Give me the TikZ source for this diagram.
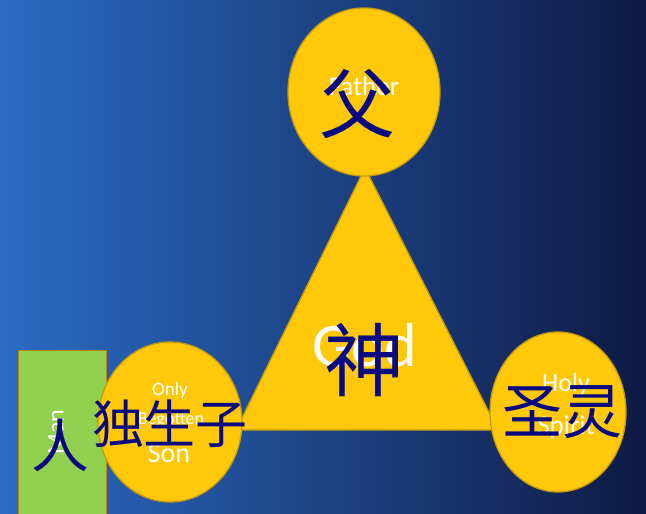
\documentclass[tikz,border=0pt]{standalone}
\usepackage{fontspec}
\setmainfont{Carlito}
\newfontfamily\cjk{Noto Sans CJK SC}
\usetikzlibrary{shapes.geometric}
\definecolor{gold}{HTML}{FFC90A}
\definecolor{goldedge}{HTML}{C39A0C}
\definecolor{leaf}{HTML}{92D050}
\definecolor{leafedge}{HTML}{B8860B}
\definecolor{navy}{HTML}{0A0A80}
\definecolor{bgA}{HTML}{2A6CC4}
\definecolor{bgB}{HTML}{1E3C8A}
\definecolor{bgC}{HTML}{0F1A45}
\tikzset{
  orb/.style={ellipse, fill=gold, draw=goldedge, line width=1.3pt, inner sep=0pt},
  en/.style={text=white, inner sep=0pt, font=\fontsize{#1}{#1}\selectfont},
  zh/.style={text=navy, inner sep=0pt, font=\cjk\fontsize{#1}{#1}\selectfont},
}
\begin{document}
\begin{tikzpicture}[x=1pt,y=-1pt]
\useasboundingbox (0,0) rectangle (646,514);
% background
\shade[left color=bgA, middle color=bgB, right color=bgC] (0,0) rectangle (646,514);
% triangle
\coordinate (apex) at (365,168);
\coordinate (bl) at (236,430);
\coordinate (br) at (498,430);
\filldraw[fill=gold, draw=goldedge, line width=1.3pt] (apex) -- (bl) -- (br) -- cycle;
% green rect
\node[draw=leafedge, fill=leaf, line width=1.3pt, minimum width=88pt, minimum height=170pt, inner sep=0pt, anchor=north west] (man) at (18,350) {};
% circles
\node[orb, minimum width=152pt, minimum height=168pt] (father) at (364,92) {};
\node[orb, minimum width=144pt, minimum height=160pt] (son) at (170,422) {};
\node[orb, minimum width=136pt, minimum height=160pt] (spirit) at (558,412) {};
% English labels
\node[en=27] (tFather) at (364,86) {Father};
\node[en=62] (tGod) at (365,345) {God};
\node[en=19] (tOnly) at (170,390) {Only};
\node[en=18] (tBeg) at (171,420) {Begotten};
\node[en=28] (tSon) at (169,454) {Son};
\node[en=26] (tHoly) at (566,385) {Holy};
\node[en=27] (tSpirit) at (566,427) {Spirit};
\node[en=24, rotate=90] (tMan) at (56,432) {Man};
% Chinese labels
\node[zh=76] (cFather) at (357,104) {父};
\node[zh=80] (cGod) at (364,360) {神};
\node[zh=52] (cSon) at (170,424) {独生子};
\node[zh=60] (cSpirit) at (562,412) {圣灵};
\node[zh=58] (cMan) at (60,445) {人};
\end{tikzpicture}
\end{document}
